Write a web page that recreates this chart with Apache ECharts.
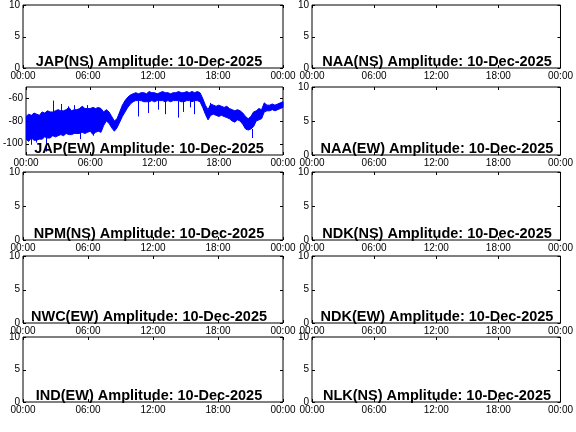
<!DOCTYPE html>
<html><head><meta charset="utf-8">
<script src="https://cdn.jsdelivr.net/npm/echarts@6/dist/echarts.min.js"></script>
<style>html,body{margin:0;padding:0;background:#fff}#c{width:576px;height:432px}</style>
</head><body><div id="c"></div>
<script>
// ---- data ----
const stations = ['JAP(NS)','NAA(NS)','JAP(EW)','NAA(EW)','NPM(NS)','NDK(NS)','NWC(EW)','NDK(EW)','IND(EW)','NLK(NS)'];
const dateLabel = '10-Dec-2025';
const xTickHours = [0, 6, 12, 18, 24];
const xTickLabels = ['00:00', '06:00', '12:00', '18:00', '00:00'];
const emptyYTicks = [0, 5, 10];
const japEwYTicks = [-100, -80, -60];
// JAP(EW) noise envelope, sampled every 15 minutes (hours)
const slotHours = [0,0.25,0.5,0.75,1,1.25,1.5,1.75,2,2.25,2.5,2.75,3,3.25,3.5,3.75,4,4.25,4.5,4.75,5,5.25,5.5,5.75,6,6.25,6.5,6.75,7,7.25,7.5,7.75,8,8.25,8.5,8.75,9,9.25,9.5,9.75,10,10.25,10.5,10.75,11,11.25,11.5,11.75,12,12.25,12.5,12.75,13,13.25,13.5,13.75,14,14.25,14.5,14.75,15,15.25,15.5,15.75,16,16.25,16.5,16.75,17,17.25,17.5,17.75,18,18.25,18.5,18.75,19,19.25,19.5,19.75,20,20.25,20.5,20.75,21,21.25,21.5,21.75,22,22.25,22.5,22.75,23,23.25,23.5,23.75,24];
const japEwHigh = [-76,-74,-75,-73,-74,-75,-72,-73,-71,-72,-72,-71,-70,-71,-71,-70,-68,-71,-70,-70,-69,-67,-69,-69,-69,-68,-69,-68,-69,-72,-70,-72,-76,-80,-78,-72,-66,-62,-59,-57,-56,-55,-56,-55,-55,-56,-54,-55,-55,-56,-55,-54,-55,-55,-56,-55,-55,-54,-55,-55,-54,-55,-54,-55,-54,-55,-60,-66,-70,-65,-66,-67,-66,-67,-68,-67,-69,-70,-71,-70,-71,-73,-76,-78,-76,-72,-71,-69,-70,-64,-66,-66,-65,-66,-65,-64,-63];
const japEwLow = [-96,-98,-95,-97,-97,-96,-96,-94,-95,-95,-93,-94,-93,-92,-93,-91,-92,-92,-91,-91,-91,-90,-91,-90,-89,-92,-90,-89,-90,-84,-80,-82,-86,-89,-86,-81,-76,-72,-68,-65,-63,-62,-62,-62,-63,-63,-63,-62,-63,-62,-62,-62,-63,-62,-63,-62,-62,-62,-63,-63,-62,-62,-63,-62,-62,-63,-68,-74,-79,-75,-74,-75,-76,-75,-76,-77,-78,-80,-81,-79,-80,-83,-87,-88,-87,-85,-80,-79,-78,-72,-71,-71,-70,-71,-70,-69,-68];
// isolated spikes: [hour, from, to]
const japEwSpikes = [[0.5,-95,-101],[1.0,-95,-99],[1.9,-95,-107],[2.5,-74,-62],[3.3,-72,-65],[3.9,-70,-67],[4.5,-70,-66],[5.1,-90,-96],[5.75,-69,-66],[6.3,-90,-93],
  [10.5,-62,-76],[11.45,-62,-73],[12.37,-62,-70],[12.98,-62,-74],[14.2,-62,-77],[14.7,-62,-72],[15.3,-62,-68],[15.75,-62,-74],[21.1,-87,-95],[17.2,-72,-64]];

// ---- layout ----
const colLeft = [23, 312], colWidth = [260, 258];
const rowTop = [2, 87, 172, 256, 337], rowBottom = [68, 155, 240, 323, 402];
const FONT = '"Liberation Sans", Arial, Helvetica, sans-serif';
const BLUE = '#0000ff';
const TICK_LEN = 3;

const grid = [], xAxis = [], yAxis = [], series = [], graphic = [];
for (let k = 0; k < stations.length; k++) {
  const r = Math.floor(k / 2), c = k % 2;
  const isJap = k === 2;
  const w = colWidth[c], h = rowBottom[r] - rowTop[r];
  const yMin = isJap ? -110 : 0, yMax = isJap ? -50 : 10;
  const yTicks = isJap ? japEwYTicks : emptyYTicks;
  grid.push({left: colLeft[c], top: rowTop[r], width: w, height: h,
    show: true, borderColor: '#000', borderWidth: 1, backgroundColor: 'transparent', containLabel: false});
  xAxis.push({gridIndex: k, type: 'value', min: 0, max: 24, interval: 6, position: 'bottom',
    axisLine: {show: false}, splitLine: {show: false}, axisTick: {show: false},
    axisLabel: {show: true, fontSize: 10, fontFamily: FONT, color: '#000', margin: 3,
      showMinLabel: true, showMaxLabel: true, hideOverlap: false,
      formatter: v => xTickLabels[xTickHours.indexOf(v)]}});
  yAxis.push({gridIndex: k, type: 'value', min: yMin, max: yMax, position: 'left',
    axisLine: {show: false}, splitLine: {show: false}, axisTick: {show: false},
    axisLabel: {show: true, fontSize: 10, fontFamily: FONT, color: '#000', margin: 3,
      customValues: yTicks, showMinLabel: true, showMaxLabel: true}});
  // inward ticks on all four edges, placed through the axis scales
  series.push({type: 'custom', coordinateSystem: 'cartesian2d', xAxisIndex: k, yAxisIndex: k,
    data: [[0, yMin]], animation: false, silent: true, clip: false, z: 5,
    renderItem: (params, api) => {
      const children = [];
      const st = {stroke: '#000', lineWidth: 1};
      xTickHours.forEach(t => {
        const b = api.coord([t, yMin]), tp = api.coord([t, yMax]);
        const x = Math.round(b[0]) + 0.5;
        children.push({type: 'line', shape: {x1: x, y1: b[1], x2: x, y2: b[1] - TICK_LEN}, style: st});
        children.push({type: 'line', shape: {x1: x, y1: tp[1], x2: x, y2: tp[1] + TICK_LEN}, style: st});
      });
      yTicks.forEach(v => {
        const l = api.coord([0, v]), rr = api.coord([24, v]);
        const y = Math.round(l[1]) + 0.5;
        children.push({type: 'line', shape: {x1: l[0], y1: y, x2: l[0] + TICK_LEN, y2: y}, style: st});
        children.push({type: 'line', shape: {x1: rr[0], y1: y, x2: rr[0] - TICK_LEN, y2: y}, style: st});
      });
      return {type: 'group', children};
    }});
  if (isJap) {
    series.push({type: 'custom', coordinateSystem: 'cartesian2d', xAxisIndex: k, yAxisIndex: k,
      data: [[slotHours[0], japEwHigh[0]]], animation: false, silent: true, clip: true, z: 2,
      renderItem: (params, api) => {
        const pts = [];
        for (let i = 0; i < slotHours.length; i++) pts.push(api.coord([slotHours[i], japEwHigh[i]]));
        for (let i = slotHours.length - 1; i >= 0; i--) pts.push(api.coord([slotHours[i], japEwLow[i]]));
        return {type: 'polygon', shape: {points: pts}, style: {fill: BLUE, stroke: BLUE, lineWidth: 1}};
      }});
    series.push({type: 'lines', coordinateSystem: 'cartesian2d', xAxisIndex: k, yAxisIndex: k,
      data: japEwSpikes.map(s => ({coords: [[s[0], s[1]], [s[0], s[2]]]})), animation: false, silent: true,
      lineStyle: {color: BLUE, width: 1, opacity: 1}, z: 3});
  }
  graphic.push({type: 'text', z: 100, silent: true,
    x: colLeft[c] + w / 2 - 4, y: rowBottom[r] + 1,
    style: {text: stations[k] + ' Amplitude: ' + dateLabel, fill: '#000',
      font: 'bold 14.5px ' + FONT, align: 'center', verticalAlign: 'bottom'}});
}

const chart = echarts.init(document.getElementById('c'), null, {renderer: 'canvas'});
chart.setOption({backgroundColor: '#fff', animation: false, grid, xAxis, yAxis, series, graphic});
</script></body></html>
